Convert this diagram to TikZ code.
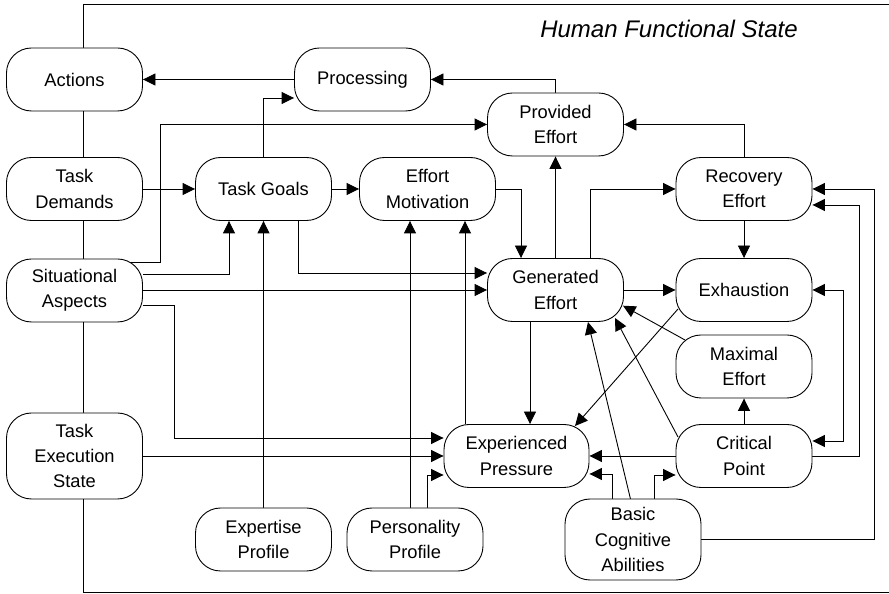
\documentclass[tikz,border=0pt]{standalone}
\usepackage{fontspec}
\setmainfont{Liberation Sans}
\usetikzlibrary{arrows.meta,backgrounds}
\begin{document}
\begin{tikzpicture}[x=1pt,y=1pt,
  box/.style={draw,line width=0.9pt,rounded corners=25pt,fill=white,minimum width=136pt,minimum height=63pt,inner sep=0pt,align=center,font=\fontsize{18.3}{25.4}\selectfont},
  arr/.style={line width=0.9pt,-{Triangle[length=12.5pt,width=12pt]}},
  barr/.style={line width=0.9pt,{Triangle[length=12.5pt,width=12pt]}-{Triangle[length=12.5pt,width=12pt]}},
  frameline/.style={line width=1pt}]
\useasboundingbox (0,0) rectangle (889,594);

% nodes
\node[box] (act) at (74.5,514.5) {Actions};
\node[box] (proc) at (362.5,514.5) {Processing};
\node[box] (td) at (74.5,405) {Task\\Demands};
\node[box] (tg) at (263.5,405) {Task Goals};
\node[box] (em) at (427.5,405) {Effort\\Motivation};
\node[box] (sa) at (74.5,303.5) {Situational\\Aspects};
\node[box] (pe) at (555.5,469.5) {Provided\\Effort};
\node[box] (re) at (744,405) {Recovery\\Effort};
\node[box] (ge) at (555.5,304) {Generated\\Effort};
\node[box] (ex) at (744,304) {Exhaustion};
\node[box] (me) at (744,227.5) {Maximal\\Effort};
\node[box] (cp) at (744,138) {Critical\\Point};
\node[box,minimum width=145pt] (ep) at (516.5,138) {Experienced\\Pressure};
\node[box,minimum height=81pt] (bca) at (633,54.5) {Basic\\Cognitive\\Abilities};
\node[box,minimum height=86pt] (tes) at (74.5,138) {Task\\Execution\\State};
\node[box] (xp) at (263.5,54.5) {Expertise\\Profile};
\node[box] (pp) at (415,54.5) {Personality\\Profile};
\node[font=\fontsize{24}{28}\selectfont\itshape] (title) at (669,565) {Human Functional State};

\begin{pgfonlayer}{background}
% frame
\coordinate (ftr) at (889,589.5);
\coordinate (ftl) at (83,589.5);
\coordinate (fbl) at (83,1.5);
\coordinate (fbr) at (889,1.5);
\draw[frameline] (ftr) -- (ftl) -- (fbl) -- (fbr);

% connectors
\draw[arr] (proc.west) -- (act.east);
\draw[arr] (pe.north) |- (proc.east);
\draw[arr] (tg.north) |- ([yshift=-18.5]proc.west);
\draw[arr] ([yshift=28.5]sa.center) -| ([xshift=-326.5]pe.west) -- (pe.west);
\draw[arr] (td.east) -- (tg.west);
\draw[arr] (tg.east) -- (em.west);
\draw[arr] ([yshift=16.5]sa.east) -| ([xshift=-34.5]tg.south);
\draw[arr] (xp.north) -- (tg.south);
\draw[arr] ([xshift=-5]pp.north) -- ([xshift=-17.5]em.south);
\draw[arr] ([xshift=-51.5]ep.north) -- ([xshift=37.5]em.south);
\draw[arr] ([xshift=34.5]tg.south) |- ([yshift=17]ge.west);
\draw[arr] (sa.east |- ge.west) -- (ge.west);
\draw[arr] ([yshift=-15]sa.east) -| ([xshift=-269.5,yshift=18]ep.west) -- ([yshift=18]ep.west);
\draw[arr] (tes.east) -- (ep.west);
\draw[arr] ([xshift=12]pp.north) |- ([yshift=-19]ep.west);
\draw[arr] (em.east) -| ([xshift=-34.5]ge.north);
\draw[arr] (ge.north) -- (pe.south);
\draw[arr] ([xshift=34.5]ge.north) |- (re.west);
\draw[arr] (re.north) |- (pe.east);
\draw[arr] (re.south) -- (ex.north);
\draw[arr] (ge.east) -- (ex.west);
\draw[arr] ([xshift=-25.5]ge.south) -- ([xshift=13.5]ep.north);
\draw[arr] ([shift={(-66,-19)}]ex.center) -- ([shift={(58.5,30)}]ep.center);
\draw[arr] ([shift={(-59,26.5)}]me.center) -- ([shift={(67.5,-15.7)}]ge.center);
\draw[arr] ([shift={(-66,19)}]cp.center) -- ([shift={(59.5,-28)}]ge.center);
\draw[arr] ([shift={(0,30)}]bca.center) -- ([shift={(32.5,-32)}]ge.center);
\draw[arr] (cp.north) -- (me.south);
\draw[arr] (cp.west) -- (ep.east);
\draw[arr] ([xshift=-21]bca.north) |- ([yshift=-18]ep.east);
\draw[arr] ([xshift=21]bca.north) |- ([yshift=-19]cp.west);
\draw[barr] (ex.east) -- ++(31,0) |- ([yshift=15]cp.east);
\draw[arr] (cp.east) -| ([xshift=47,yshift=-16]re.east) -- ([yshift=-16]re.east);
\draw[arr] (bca.east) -| ([xshift=62]re.east) -- (re.east);
\end{pgfonlayer}
\end{tikzpicture}
\end{document}
